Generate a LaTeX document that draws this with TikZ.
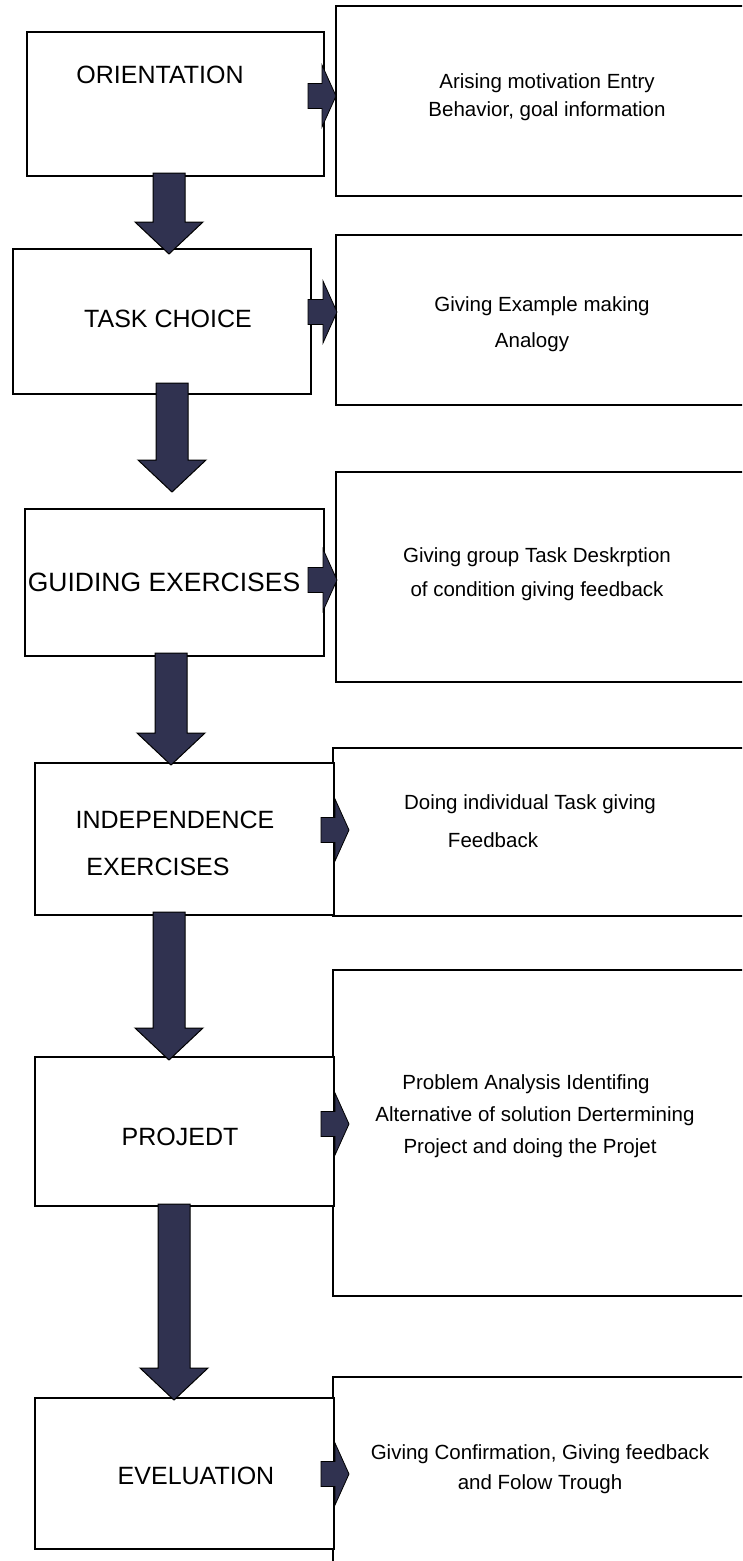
\documentclass[tikz,border=0pt]{standalone}
\usepackage{fontspec}
\setmainfont{Liberation Sans}
\usetikzlibrary{calc, fit}
\definecolor{arrfill}{RGB}{48,50,80}

\begin{document}
\begin{tikzpicture}
        [x=1pt, y=-1pt,
        stagebox/.style={draw=black, line width=1.5pt, fill=white, inner sep=0pt},
        actbox/.style={draw=black, line width=1.5pt, fill=white, inner sep=0pt},
        stagetext/.style={font=\fontsize{25}{#1}\selectfont, align=center, inner sep=0pt},
        acttext/.style={font=\fontsize{20.5}{#1}\selectfont, align=center, inner sep=0pt},
        downarr/.style={draw=black, line width=1pt, fill=arrfill, line join=miter,
           to path={($(\tikztostart)+(-16,0)$) -- ($(\tikztotarget)+(-16,-32)$)
              -- ($(\tikztotarget)+(-34,-32)$) -- (\tikztotarget)
              -- ($(\tikztotarget)+(34,-32)$) -- ($(\tikztotarget)+(16,-32)$)
              -- ($(\tikztostart)+(16,0)$) -- cycle}},
        sidearr/.style={draw=black, line width=0.8pt, fill=arrfill, line join=miter,
           to path={($(\tikztostart)+(0,-12.5)$) -- ($(\tikztotarget)+(-14,-12.5)$)
              -- ($(\tikztotarget)+(-14,-31)$) -- (\tikztotarget)
              -- ($(\tikztotarget)+(-14,31)$) -- ($(\tikztotarget)+(-14,12.5)$)
              -- ($(\tikztostart)+(0,12.5)$) -- cycle}}]
        \useasboundingbox (0,0) rectangle (742,1561);
        \clip (0,0) rectangle (742,1561);

        % activity boxes, cut by the right edge
        \node (R1) [actbox, fit={(336,6) (770,196)}] {};
        \node (R2) [actbox, fit={(336,235) (770,405)}] {};
        \node (R3) [actbox, fit={(336,472) (770,682)}] {};
        \node (R4) [actbox, fit={(333,748) (770,916)}] {};
        \node (R5) [actbox, fit={(333,970) (770,1296)}] {};
        \node (R6) [actbox, fit={(333,1377) (770,1620)}] {};

        % stage boxes
        \node (L1) [stagebox, fit={(27,32) (324,176)}] {};
        \node (L2) [stagebox, fit={(13,249) (311,394)}] {};
        \node (L3) [stagebox, fit={(25,509) (324,656)}] {};
        \node (L4) [stagebox, fit={(35,763) (334,915)}] {};
        \node (L5) [stagebox, fit={(35,1057) (334,1206)}] {};
        \node (L6) [stagebox, fit={(35,1398) (334,1549)}] {};

        \node (L1t) at (160,75) [stagetext=30] {ORIENTATION};
        \node (L2t) at (168,319) [stagetext=30] {TASK CHOICE};
        \node (L3t) at (164,582) [stagetext=30, font=\fontsize{26.5}{30}\selectfont] {GUIDING EXERCISES};
        \node (L4t) at (175,843) [stagetext=47] {INDEPENDENCE\\EXERCISES\hspace*{34pt}};
        \node (L5t) at (180,1137) [stagetext=30] {PROJEDT};
        \node (L6t) at (196,1476) [stagetext=30] {EVELUATION};

        \node (R1t) at (547,97) [acttext=28] {Arising motivation Entry\\Behavior, goal information};
        \node (R2t) at (542,324) [acttext=36] {Giving Example making\\Analogy\hspace*{20pt}};
        \node (R3t) at (537,574) [acttext=34] {Giving group Task Deskrption\\of condition giving feedback};
        \node (R4t) at (530,821) [acttext=38] {Doing individual Task giving\\Feedback\hspace*{74pt}};
        \node (R5t) at (535,1116) [acttext=32] {Problem Analysis Identifing\hspace*{18pt}\\Alternative of solution Dertermining\\Project and doing the Projet\hspace*{10pt}};
        \node (R6t) at (540,1469) [acttext=30] {Giving Confirmation, Giving feedback\\and Folow Trough};

        % arrow ends
        \coordinate (d1s) at (169,173);  \coordinate (d1e) at (169,254);
        \coordinate (d2s) at (172,383);  \coordinate (d2e) at (172,492);
        \coordinate (d3s) at (171,653);  \coordinate (d3e) at (171,765);
        \coordinate (d4s) at (169,912);  \coordinate (d4e) at (169,1060);
        \coordinate (d5s) at (174,1204); \coordinate (d5e) at (174,1400);
        \coordinate (s1s) at (308,96);   \coordinate (s1e) at (336,96);
        \coordinate (s2s) at (308,312);  \coordinate (s2e) at (337,312);
        \coordinate (s3s) at (308,580);  \coordinate (s3e) at (337,580);
        \coordinate (s4s) at (321,830);  \coordinate (s4e) at (349,830);
        \coordinate (s5s) at (321,1124); \coordinate (s5e) at (349,1124);
        \coordinate (s6s) at (321,1474); \coordinate (s6e) at (349,1474);

        \foreach \i in {1,...,5}
           \path (d\i s) edge[downarr] (d\i e);
        \foreach \i in {1,...,6}
           \path (s\i s) edge[sidearr] (s\i e);
     \end{tikzpicture}
\end{document}
